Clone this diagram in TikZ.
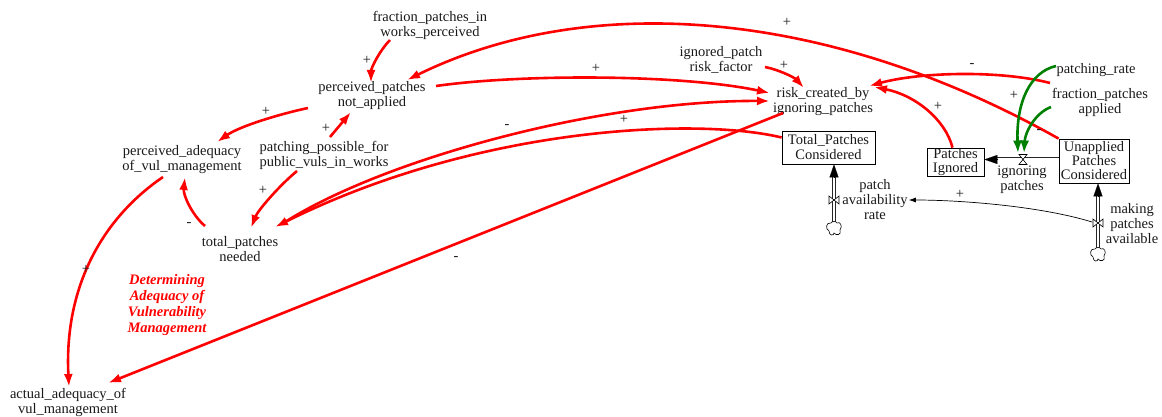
\documentclass[tikz,border=0pt]{standalone}
\usepackage{fontspec}
\setmainfont{Liberation Serif}
\usetikzlibrary{arrows.meta,calc}
\definecolor{linkred}{RGB}{255,0,0}
\definecolor{linkgreen}{RGB}{0,128,0}
\definecolor{ink}{RGB}{25,25,25}

\begin{document}
\begin{tikzpicture}[x=1pt,y=-1pt,
  font=\fontsize{14.5}{15}\selectfont,
  var/.style={align=center,inner sep=1pt,text=ink},
  stock/.style={draw=black,line width=0.8pt,align=center,inner sep=0pt,text=ink},
  pol/.style={inner sep=0pt,text=ink,font=\fontsize{14.5}{14.5}\selectfont},
  rlink/.style={draw=linkred,line width=2.6pt,-{Latex[length=13pt,width=9pt]}},
  glink/.style={draw=linkgreen,line width=2.6pt,-{Latex[length=13pt,width=9pt]}},
  blink/.style={draw=black,line width=0.7pt,-{Latex[length=7pt,width=5pt]}},
  pipe/.style={draw=black!85,line width=0.7pt,double=white,double distance=2.6pt},
  flowhead/.style={-{Triangle[length=13pt,width=9pt]},line width=0.1pt,black},
  valve/.style={draw=black,fill=white,line width=0.6pt},
  cloudline/.style={draw=black,fill=white,line width=0.6pt}
]
\useasboundingbox (0,0) rectangle (1162,417);

% ---- auxiliary variables ----
\node[var] (fpiwp) at (430,25) {fraction\_patches\_in\\works\_perceived};
\node[var] (ppna)  at (372,96) {perceived\_patches\\not\_applied};
\node[var] (pavm)  at (182,160) {perceived\_adequacy\\of\_vul\_management};
\node[var] (ppfp)  at (324,155) {patching\_possible\_for\\public\_vuls\_in\_works};
\node[var] (tpn)   at (240,249) {total\_patches\\needed};
\node[var] (aavm)  at (68,402) {actual\_adequacy\_of\\vul\_management};
\node[var,text=linkred,font=\fontsize{14.5}{16}\selectfont\bfseries\itshape] (title) at (167,305)
  {Determining\\Adequacy of\\Vulnerability\\Management};
\node[var] (ignf)  at (721,60) {ignored\_patch\\risk\_factor};
\node[var] (rcig)  at (823,102) {risk\_created\_by\\ignoring\_patches};
\node[var] (prate) at (1096,70) {patching\_rate};
\node[var] (fpa)   at (1100,102) {fraction\_patches\\applied};

% ---- stocks ----
\node[stock,minimum width=93pt,minimum height=33pt] (tpc) at (828.5,147.5) {Total\_Patches\\Considered};
\node[stock,minimum width=57pt,minimum height=28pt,font=\fontsize{14.5}{14}\selectfont] (pign) at (955.5,162) {Patches\\Ignored};
\node[stock,minimum width=70pt,minimum height=44pt,font=\fontsize{14.5}{14}\selectfont] (upc) at (1094,161) {Unapplied\\Patches\\Considered};

% ---- flows ----
\coordinate (ipv) at (1023,159.5);
\node[var] (iplab) at (1022,180) {ignoring\\patches};
\coordinate (pav) at (834,200);
\node[var] (palab) at (875,200) {patch\\availability\\rate};
\coordinate (mpav) at (1098,223);
\node[var] (mplab) at (1132,224) {making\\patches\\available};
\coordinate (cl1) at (834,229);
\coordinate (cl2) at (1098,255);

% ignoring patches: Unapplied -> Ignored
\draw[pipe] (upc.west |- ipv) -- ($(pign.east |- ipv)+(12,0)$);
\draw[flowhead] ($(pign.east |- ipv)+(13,0)$) -- (pign.east |- ipv);
\draw[valve,shift={(ipv)}] (-4,-5) -- (4,-5) -- (-4,5) -- (4,5) -- cycle;

% patch availability rate: source -> Total_Patches_Considered
\draw[pipe] ($(cl1)+(0,-6)$) -- ($(cl1 |- tpc.south)+(0,12)$);
\draw[flowhead] ($(cl1 |- tpc.south)+(0,13)$) -- (cl1 |- tpc.south);
\draw[valve,shift={(pav)}] (-5,-4) -- (-5,4) -- (5,-4) -- (5,4) -- cycle;
\draw[cloudline,shift={(cl1)}] (-3,-6) .. controls (-8,-7) and (-9,0) .. (-5,2)
  .. controls (-5,7) and (0,7) .. (0,4) .. controls (2,7) and (8,6) .. (6,1)
  .. controls (9,-3) and (6,-8) .. (3,-6) .. controls (2,-8) and (-2,-8) .. (-3,-6) -- cycle;

% making patches available: source -> Unapplied_Patches_Considered
\draw[pipe] ($(cl2)+(0,-6)$) -- ($(cl2 |- upc.south)+(0,12)$);
\draw[flowhead] ($(cl2 |- upc.south)+(0,13)$) -- (cl2 |- upc.south);
\draw[valve,shift={(mpav)}] (-5,-4) -- (-5,4) -- (5,-4) -- (5,4) -- cycle;
\draw[cloudline,shift={(cl2)}] (-3,-6) .. controls (-8,-7) and (-9,0) .. (-5,2)
  .. controls (-5,7) and (0,7) .. (0,4) .. controls (2,7) and (8,6) .. (6,1)
  .. controls (9,-3) and (6,-8) .. (3,-6) .. controls (2,-8) and (-2,-8) .. (-3,-6) -- cycle;

% ---- causal links ----
\draw[rlink] ($(fpiwp)+(-40,15)$) .. controls +(-10,10) and +(0,-15) .. ($(ppna)+(-1,-13)$);
\draw[rlink] (upc.north west) .. controls +(-229,-129) and +(183,-90) .. ($(ppna)+(35,-16)$);
\draw[rlink] ($(ppna)+(64,-10)$) .. controls +(84,-12) and +(-90,-19) .. ($(rcig)+(-53,-9)$);
\draw[rlink] ($(ignf)+(44,7)$) .. controls +(15,3) and +(-9,-10) .. ($(rcig)+(-19,-14)$);
\draw[rlink] ($(tpn)+(42,-25)$) .. controls +(98,-64) and +(-170,-1) .. ($(rcig)+(-53,-1)$);
\draw[rlink] ($(tpc.west)+(0,-10)$) .. controls +(-82,-20) and +(205,-102) .. ($(tpn)+(35,-22)$);
\draw[rlink] ($(rcig)+(-40,11)$) -- ($(aavm)+(40,-19)$);
\draw[rlink] ($(ppna)+(-64,12)$) .. controls +(-28,6) and +(23,-16) .. ($(pavm)+(35,-18)$);
\draw[rlink] ($(ppfp)+(6,-18)$) -- ($(ppna)+(-21,16)$);
\draw[rlink] ($(ppfp)+(-27,16)$) .. controls +(-17,14) and +(7,-18) .. ($(tpn)+(11,-21)$);
\draw[rlink] ($(tpn)+(-35,-23)$) .. controls +(-13,-11) and +(-2,18) .. ($(pavm)+(3,17)$);
\draw[rlink] ($(pavm)+(-19,17)$) .. controls +(-63,43) and +(-5,-97) .. ($(aavm)+(1,-15)$);
\draw[rlink] ($(pign.north)+(-3,0)$) .. controls +(-7,-28) and +(41,8) .. ($(rcig)+(51,-15)$);
\draw[rlink] ($(fpa)+(-50,-19)$) .. controls +(-50,-13) and +(51,-14) .. ($(rcig)+(46,-16)$);
\draw[glink] ($(prate)+(-40,-4)$) .. controls +(-26,6) and +(-2,-51) .. ($(ipv)+(-5,-6)$);
\draw[glink] ($(fpa)+(-49,5)$) .. controls +(-16,6) and +(1,-21) .. ($(ipv)+(1,-6)$);
\draw[blink] ($(mpav)+(-6,-1)$) .. controls +(-52,-16) and +(51,0) .. (palab.east);

% ---- link polarities ----
\node[pol] (s1)  at (367,60)  {+};
\node[pol] (s2)  at (787,22)  {+};
\node[pol] (s3)  at (596,68)  {+};
\node[pol] (s4)  at (784,65)  {+};
\node[pol] (s5)  at (507,127) {-};
\node[pol] (s6)  at (624,119) {+};
\node[pol] (s7)  at (456,259) {-};
\node[pol] (s8)  at (266,111) {+};
\node[pol] (s9)  at (326,128) {+};
\node[pol] (s10) at (263,190) {+};
\node[pol] (s11) at (189,225) {-};
\node[pol] (s12) at (86,269)  {+};
\node[pol] (s13) at (938,106) {+};
\node[pol] (s14) at (972,66)  {-};
\node[pol] (s15) at (1014,95) {+};
\node[pol] (s16) at (1039,132) {-};
\node[pol] (s17) at (960,194) {+};
\end{tikzpicture}
\end{document}
